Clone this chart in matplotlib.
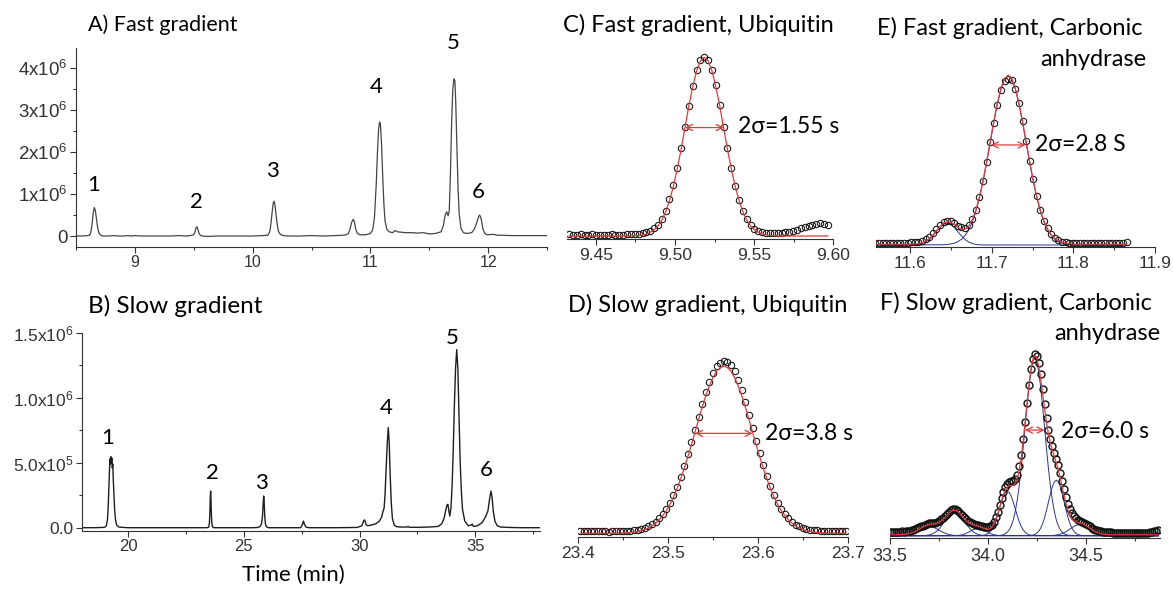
import matplotlib
matplotlib.use('Agg')
import matplotlib.pyplot as plt
from matplotlib.ticker import MultipleLocator

plt.rcParams['mathtext.fontset'] = 'custom'
plt.rcParams['mathtext.rm'] = 'Liberation Sans'
plt.rcParams['mathtext.it'] = 'Liberation Sans:italic'
plt.rcParams['mathtext.bf'] = 'Liberation Sans:bold'

# ---------------- data ----------------
# Panel A: fast gradient chromatogram (time min, intensity x1e6)
a_points = [
    (8.50, 0.0), (8.55, 0.0), (8.60, 0.01), (8.615, 0.02), (8.625, 0.08), (8.635, 0.25), (8.645, 0.52),
    (8.655, 0.68), (8.665, 0.60), (8.675, 0.38), (8.685, 0.18), (8.695, 0.07), (8.71, 0.02), (8.73, 0.0),
    (8.78, 0.0), (8.82, 0.01), (8.86, 0.0), (8.90, 0.0), (8.94, 0.01), (8.97, 0.0), (9.00, 0.01), (9.05, 0.0),
    (9.10, 0.0), (9.20, 0.0), (9.30, 0.0), (9.38, 0.01), (9.43, 0.0), (9.47, 0.01), (9.50, 0.03), (9.51, 0.10),
    (9.52, 0.20), (9.527, 0.22), (9.535, 0.16), (9.545, 0.07), (9.555, 0.02), (9.57, 0.0), (9.62, -0.01),
    (9.70, 0.0), (9.80, 0.0), (9.90, 0.0), (10.00, 0.0), (10.08, 0.01), (10.13, 0.02), (10.145, 0.10),
    (10.155, 0.28), (10.165, 0.55), (10.175, 0.79), (10.182, 0.83), (10.19, 0.74), (10.20, 0.48), (10.21, 0.25),
    (10.22, 0.11), (10.235, 0.04), (10.26, 0.01), (10.30, 0.0), (10.40, 0.0), (10.50, 0.01), (10.60, 0.0),
    (10.70, 0.01), (10.78, 0.02), (10.81, 0.05), (10.825, 0.14), (10.84, 0.32), (10.855, 0.40), (10.865, 0.33),
    (10.875, 0.17), (10.89, 0.06), (10.91, 0.03), (10.96, 0.03), (11.00, 0.06), (11.02, 0.15), (11.035, 0.45),
    (11.05, 1.25), (11.06, 2.0), (11.07, 2.55), (11.078, 2.72), (11.085, 2.68), (11.095, 2.2), (11.105, 1.4),
    (11.115, 0.75), (11.125, 0.35), (11.14, 0.16), (11.16, 0.10), (11.19, 0.08), (11.21, 0.13), (11.23, 0.10),
    (11.30, 0.08), (11.35, 0.08), (11.40, 0.07), (11.45, 0.08), (11.50, 0.05), (11.55, 0.06), (11.60, 0.10),
    (11.62, 0.25), (11.635, 0.50), (11.648, 0.58), (11.66, 0.48), (11.67, 0.60), (11.68, 1.5), (11.69, 2.7),
    (11.70, 3.5), (11.71, 3.75), (11.718, 3.7), (11.725, 3.2), (11.735, 2.1), (11.745, 1.1), (11.755, 0.5),
    (11.77, 0.18), (11.79, 0.08), (11.82, 0.06), (11.86, 0.08), (11.88, 0.15), (11.895, 0.25), (11.91, 0.38),
    (11.925, 0.50), (11.935, 0.47), (11.945, 0.35), (11.955, 0.18), (11.97, 0.07), (11.99, 0.03), (12.05, 0.04),
    (12.07, 0.02), (12.10, 0.02), (12.20, 0.01), (12.30, 0.01), (12.40, 0.01), (12.50, 0.01)]
a_labels = ['1', '2', '3', '4', '5', '6']
a_label_t = [8.65, 9.52, 10.17, 11.05, 11.70, 11.92]
a_label_y = [1.22, 0.81, 1.55, 3.56, 4.61, 1.05]
a_yticks = [0, 1, 2, 3, 4]
a_yticklabels = ['0', '1x10$^{6}$', '2x10$^{6}$', '3x10$^{6}$', '4x10$^{6}$']
a_xticks = [9, 10, 11, 12]

# Panel B: slow gradient chromatogram (time min, intensity x1e5)
b_points = [
    (18.0, 0.0), (18.5, 0.0), (18.9, 0.02), (19.0, 0.05), (19.05, 0.15), (19.1, 0.6), (19.13, 1.5), (19.16, 3.0),
    (19.19, 4.5), (19.21, 5.3), (19.23, 4.9), (19.25, 5.46), (19.27, 5.0), (19.29, 5.35), (19.31, 4.6),
    (19.33, 4.9), (19.35, 3.8), (19.38, 2.6), (19.41, 1.4), (19.45, 0.6), (19.5, 0.2), (19.6, 0.05), (19.8, 0.02),
    (20.0, 0.0), (21.0, 0.0), (22.0, 0.0), (23.0, 0.0), (23.4, 0.0), (23.48, 0.05), (23.51, 0.4), (23.53, 1.3),
    (23.545, 2.3), (23.56, 2.82), (23.575, 2.3), (23.59, 1.2), (23.61, 0.4), (23.64, 0.08), (23.7, 0.0),
    (24.5, 0.0), (25.4, 0.0), (25.6, 0.02), (25.7, 0.1), (25.76, 0.3), (25.8, 0.8), (25.83, 1.8), (25.855, 2.44),
    (25.875, 2.0), (25.9, 0.9), (25.93, 0.3), (25.97, 0.08), (26.05, 0.0), (27.0, 0.0), (27.45, 0.0),
    (27.52, 0.2), (27.57, 0.51), (27.62, 0.25), (27.68, 0.05), (27.8, 0.0), (29.0, 0.0), (29.9, 0.02),
    (30.1, 0.15), (30.18, 0.55), (30.22, 0.6), (30.28, 0.25), (30.35, 0.15), (30.5, 0.2), (30.7, 0.3),
    (30.85, 0.5), (30.95, 0.8), (31.02, 1.3), (31.06, 1.5), (31.1, 2.5), (31.15, 4.6), (31.2, 6.6), (31.24, 7.7),
    (31.28, 6.6), (31.32, 4.2), (31.37, 1.9), (31.42, 0.7), (31.5, 0.2), (31.6, 0.08), (31.8, 0.05),
    (32.05, 0.05), (32.1, 0.1), (32.15, 0.03), (32.5, 0.03), (33.0, 0.05), (33.4, 0.1), (33.55, 0.3),
    (33.65, 0.7), (33.72, 1.3), (33.78, 1.75), (33.82, 1.8), (33.86, 1.3), (33.9, 0.9), (33.95, 1.5),
    (34.0, 3.2), (34.05, 6.0), (34.1, 9.5), (34.15, 12.3), (34.2, 13.7), (34.25, 12.2), (34.3, 8.5),
    (34.35, 5.0), (34.4, 2.8), (34.45, 1.4), (34.55, 0.5), (34.7, 0.15), (34.82, 0.2), (34.87, 0.28),
    (34.92, 0.1), (35.1, 0.15), (35.3, 0.4), (35.45, 0.85), (35.55, 1.3), (35.62, 2.2), (35.68, 2.82),
    (35.73, 2.3), (35.78, 1.3), (35.85, 0.5), (35.95, 0.15), (36.1, 0.05), (36.5, 0.02), (37.0, 0.0), (37.8, 0.0)]
b_labels = ['1', '2', '3', '4', '5', '6']
b_label_t = [19.13, 23.64, 25.75, 31.15, 34.02, 35.47]
b_label_y = [6.88, 4.18, 3.46, 9.18, 14.57, 4.44]
b_yticks = [0, 5, 10, 15]
b_yticklabels = ['0.0', '5.0x10$^{5}$', '1.0x10$^{6}$', '1.5x10$^{6}$']
b_xticks = [20, 25, 30, 35]

# Panel C: fast gradient, ubiquitin (relative intensity %)
c_t = [9.4331, 9.4355, 9.4380, 9.4404, 9.4429, 9.4453, 9.4477, 9.4502, 9.4526, 9.4551,
       9.4575, 9.4599, 9.4624, 9.4648, 9.4673, 9.4697, 9.4721, 9.4746, 9.4770, 9.4795,
       9.4819, 9.4843, 9.4868, 9.4892, 9.4917, 9.4941, 9.4965, 9.4990, 9.5014, 9.5039,
       9.5063, 9.5087, 9.5112, 9.5136, 9.5161, 9.5185, 9.5209, 9.5234, 9.5258, 9.5283,
       9.5307, 9.5331, 9.5356, 9.5380, 9.5405, 9.5429, 9.5453, 9.5478, 9.5502, 9.5527,
       9.5551, 9.5575, 9.5600, 9.5624, 9.5649, 9.5673, 9.5697, 9.5722, 9.5746, 9.5771,
       9.5795, 9.5819, 9.5844, 9.5868, 9.5893, 9.5917, 9.5941, 9.5966]
c_data = [0.9, 0.7, 0.8, 1.0, 0.8, 0.7, 0.9, 0.8, 0.6, 0.8, 0.7, 0.9, 0.8, 0.7, 0.8, 0.9, 1.0,
          1.1, 1.3, 1.6, 2.0, 2.9, 4.2, 6.3, 9.6, 14.0, 20.5, 28.5, 38.0, 49.5, 61.0, 73.0, 84.0, 93.0,
          98.5, 100.3, 98.6, 93.0, 84.3, 73.2, 61.2, 49.3, 38.0, 28.0, 20.0, 14.0, 9.3, 6.1, 4.0, 2.8,
          2.1, 1.8, 1.6, 1.5,
          1.6, 1.8, 2.1, 2.5, 3.0, 3.6, 4.3, 5.0, 5.7, 6.3, 6.8, 7.0, 6.8, 6.1]
c_fit = [0, 0, 0, 0, 0, 0, 0, 0, 0, 0, 0, 0, 0, 0, 0, 0, 0,
         0.15, 0.3, 0.6, 1.1, 2.0, 3.4, 5.6, 8.9, 13.5, 19.8, 27.8, 37.5, 48.7, 60.7, 72.6, 83.5, 92.3,
         98.0, 100.0, 98.0, 92.3, 83.5, 72.6, 60.7, 48.7, 37.5, 27.8, 19.8, 13.5, 8.9, 5.6, 3.4, 2.0,
         1.1, 0.6, 0.3, 0.15,
         0, 0, 0, 0, 0, 0, 0, 0, 0, 0, 0, 0, 0, 0]
c_xticks = [9.45, 9.50, 9.55, 9.60]
c_xticklabels = ['9.45', '9.50', '9.55', '9.60']

# Panel D: slow gradient, ubiquitin
d_t = [23.402, 23.406, 23.410, 23.414, 23.418, 23.422, 23.426, 23.430, 23.434, 23.438,
       23.442, 23.446, 23.450, 23.454, 23.458, 23.462, 23.466, 23.470, 23.474, 23.478,
       23.482, 23.486, 23.490, 23.494, 23.498, 23.502, 23.506, 23.510, 23.514, 23.518,
       23.522, 23.526, 23.530, 23.534, 23.538, 23.542, 23.546, 23.550, 23.554, 23.558,
       23.562, 23.566, 23.570, 23.574, 23.578, 23.582, 23.586, 23.590, 23.594, 23.598,
       23.602, 23.606, 23.610, 23.614, 23.618, 23.622, 23.626, 23.630, 23.634, 23.638,
       23.642, 23.646, 23.650, 23.654, 23.658, 23.662, 23.666, 23.670, 23.674, 23.678,
       23.682, 23.686, 23.690, 23.694, 23.698]
d_data = [1.3, 1.1, 1.2, 1.4, 1.2, 1.1, 1.3, 1.2, 1.0, 1.2, 1.3, 1.2,
          1.3, 1.4, 1.5, 1.8, 2.1, 2.6, 3.2, 4.0, 5.2, 6.8, 8.8, 11.3, 14.3, 18.0, 22.3, 27.4, 33.2, 39.5,
          46.3, 53.5, 60.8, 68.3, 75.8, 82.8, 89.0, 94.0, 97.8, 100.0, 100.8, 100.3, 98.5, 95.0, 90.0, 83.8,
          76.8, 69.2, 61.6, 54.0, 46.8, 39.8, 33.4, 27.6, 22.4, 18.0, 14.3, 11.2, 8.7, 6.7, 5.1, 4.0, 3.2,
          2.6, 2.2, 1.9, 1.7, 1.6, 1.5,
          1.5, 1.4, 1.5, 1.3, 1.4, 1.3]
d_fit = [0, 0, 0, 0, 0, 0, 0, 0, 0, 0, 0, 0,
         0.2, 0.3, 0.5, 0.8, 1.1, 1.6, 2.3, 3.1, 4.3, 5.9, 7.8, 10.3, 13.2, 16.9, 21.2, 26.2, 31.9, 38.1,
         44.9, 52.0, 59.4, 66.8, 74.0, 80.7, 86.5, 91.3, 95.0, 97.2, 98.0, 97.2, 95.0, 91.3, 86.5, 80.7,
         74.0, 66.8, 59.4, 52.0, 44.9, 38.1, 31.9, 26.2, 21.2, 16.9, 13.2, 10.3, 7.8, 5.9, 4.3, 3.1, 2.3,
         1.6, 1.1, 0.8, 0.5, 0.3, 0.2,
         0, 0, 0, 0, 0, 0]
d_xticks = [23.4, 23.5, 23.6, 23.7]
d_xticklabels = ['23.4', '23.5', '23.6', '23.7']

# Panel E: fast gradient, carbonic anhydrase
e_t = [11.5572, 11.5616, 11.5660, 11.5704, 11.5748, 11.5792, 11.5836, 11.5880, 11.5924, 11.5968,
       11.6012, 11.6056, 11.6100, 11.6144, 11.6188, 11.6232, 11.6276, 11.6320, 11.6364, 11.6408,
       11.6452, 11.6496, 11.6540, 11.6584, 11.6628, 11.6672, 11.6716, 11.6760, 11.6804, 11.6848,
       11.6892, 11.6936, 11.6980, 11.7024, 11.7068, 11.7112, 11.7156, 11.7200, 11.7244, 11.7288,
       11.7332, 11.7376, 11.7420, 11.7464, 11.7508, 11.7552, 11.7596, 11.7640, 11.7684, 11.7728,
       11.7772, 11.7816, 11.7860, 11.7904, 11.7948, 11.7992, 11.8036, 11.8080, 11.8124, 11.8168,
       11.8212, 11.8256, 11.8300, 11.8344, 11.8388, 11.8432, 11.8476, 11.8520, 11.8564, 11.8608,
       11.8652]
e_data = [1.3, 1.1, 1.2, 1.4, 1.2, 1.3, 1.1, 1.3, 1.4,
          1.4, 1.6, 1.8, 2.0, 2.6, 3.5, 5.0, 7.0, 9.6, 12.0, 13.9,
          14.5, 14.2, 13.0, 11.4, 10.4, 10.3, 12.0, 15.5, 21.0, 28.6, 38.0,
          49.0, 60.8, 72.4, 83.0, 91.5, 96.8, 98.2, 97.5, 92.5, 84.2, 73.5, 61.8, 50.0,
          38.8, 29.0, 20.8, 14.4, 9.8, 6.5, 4.3, 2.9, 2.0, 1.6, 1.4, 1.3,
          1.2, 1.3, 1.1, 1.2, 1.4, 1.2, 1.1, 1.3, 1.2, 1.0, 1.2, 1.3, 1.1, 1.2, 1.6]
e_fit = [0.5, 0.5, 0.5, 0.5, 0.5, 0.5, 0.5, 0.5, 0.5,
         0.52, 0.55, 0.64, 0.86, 1.36, 2.26, 3.74, 5.84, 8.39, 10.91, 12.95,
         13.8, 13.4, 12.01, 10.39, 9.24, 9.34, 11.16, 14.86, 20.66, 28.44, 38.05,
         49.22, 61.2, 73.1, 84.0, 92.8, 98.5, 100.5, 98.5, 92.8, 84.0, 73.1, 61.2, 49.2,
         38.0, 28.3, 20.3, 14.0, 9.4, 6.1, 3.9, 2.5, 1.6, 1.1, 0.8, 0.65,
         0.5, 0.5, 0.5, 0.5, 0.5, 0.5, 0.5, 0.5, 0.5, 0.5, 0.5, 0.5, 0.5, 0.5, 0.5]
# fitted gaussian components: (first grid index, values)
e_comp_start = [9, 19]
e_comp_vals = [
    [0.02, 0.05, 0.14, 0.36, 0.86, 1.76, 3.24, 5.34, 7.89, 10.41, 12.3, 13.0, 12.3, 10.41, 7.89, 5.34,
     3.24, 1.76, 0.86, 0.36, 0.14, 0.05, 0.02],
    [0.15, 0.3, 0.6, 1.1, 2.0, 3.4, 5.6, 8.9, 13.5, 19.8, 27.8, 37.5, 48.7, 60.7, 72.6, 83.5, 92.3, 98.0,
     100.0, 98.0, 92.3, 83.5, 72.6, 60.7, 48.7, 37.5, 27.8, 19.8, 13.5, 8.9, 5.6, 3.4, 2.0, 1.1, 0.6, 0.3, 0.15]]
e_xticks = [11.6, 11.7, 11.8, 11.9]
e_xticklabels = ['11.6', '11.7', '11.8', '11.9']

# Panel F: slow gradient, carbonic anhydrase
f_t = [33.50, 33.51, 33.52, 33.53, 33.54, 33.55, 33.56, 33.57, 33.58, 33.59,
       33.60, 33.61, 33.62, 33.63, 33.64, 33.65, 33.66, 33.67, 33.68, 33.69,
       33.70, 33.71, 33.72, 33.73, 33.74, 33.75, 33.76, 33.77, 33.78, 33.79,
       33.80, 33.81, 33.82, 33.83, 33.84, 33.85, 33.86, 33.87, 33.88, 33.89,
       33.90, 33.91, 33.92, 33.93, 33.94, 33.95, 33.96, 33.97, 33.98, 33.99,
       34.00, 34.01, 34.02, 34.03, 34.04, 34.05, 34.06, 34.07, 34.08, 34.09,
       34.10, 34.11, 34.12, 34.13, 34.14, 34.15, 34.16, 34.17, 34.18, 34.19,
       34.20, 34.21, 34.22, 34.23, 34.24, 34.25, 34.26, 34.27, 34.28, 34.29,
       34.30, 34.31, 34.32, 34.33, 34.34, 34.35, 34.36, 34.37, 34.38, 34.39,
       34.40, 34.41, 34.42, 34.43, 34.44, 34.45, 34.46, 34.47, 34.48, 34.49,
       34.50, 34.51, 34.52, 34.53, 34.54, 34.55, 34.56, 34.57, 34.58, 34.59,
       34.60, 34.61, 34.62, 34.63, 34.64, 34.65, 34.66, 34.67, 34.68, 34.69,
       34.70, 34.71, 34.72, 34.73, 34.74, 34.75, 34.76, 34.77, 34.78, 34.79,
       34.80, 34.81, 34.82, 34.83, 34.84, 34.85, 34.86, 34.87]
f_data = [2.0, 1.8, 2.1, 1.9, 2.2, 2.0, 2.3, 2.1, 2.4, 2.3,
          2.6, 2.9, 3.2, 3.5, 4.0, 4.5, 5.0, 5.5, 6.0, 6.3,
          6.6, 6.8, 6.9, 7.1, 7.6, 8.2, 8.8, 9.7, 10.8, 11.9,
          12.9, 13.7, 14.2, 14.3, 14.0, 13.3, 12.3, 11.1, 9.9, 8.8,
          7.9, 7.2, 6.7, 6.3, 6.0, 5.8, 5.5, 5.1, 4.8, 4.5,
          4.5, 5.0, 6.0, 7.6, 10.0, 13.0, 16.6, 20.2, 23.6, 26.3,
          28.0, 28.9, 29.3, 29.6, 30.6, 33.0, 37.4, 43.8, 52.0, 61.6,
          71.7, 81.5, 89.8, 95.3, 97.8, 97.0, 93.2, 87.0, 79.2, 71.0,
          63.6, 57.2, 52.2, 48.2, 44.8, 41.5, 38.0, 34.0, 29.5, 25.0,
          20.9, 17.3, 14.4, 12.2, 10.6, 9.4, 8.6, 8.0, 7.5, 7.0,
          6.4, 5.8, 5.1, 4.4, 3.8, 3.3, 2.9, 2.6, 2.4, 2.2,
          2.0, 1.9, 1.8, 1.8, 1.7, 1.6, 1.7, 1.6, 1.5, 1.6,
          1.5, 1.5, 1.4, 1.5, 1.4, 1.3, 1.4, 1.3, 1.4, 1.3,
          1.5, 1.5, 1.6, 1.8, 2.0, 2.3, 2.6, 3.0]
f_fit = [0.50, 0.50, 0.51, 0.52, 0.53, 0.56, 0.60, 0.67, 0.78, 0.95,
         1.18, 1.49, 1.89, 2.38, 2.95, 3.56, 4.17, 4.76, 5.26, 5.66,
         5.94, 6.13, 6.28, 6.44, 6.70, 7.15, 7.82, 8.71, 9.78, 10.93,
         12.04, 12.96, 13.54, 13.71, 13.43, 12.74, 11.71, 10.48, 9.25, 8.13,
         7.21, 6.54, 6.09, 5.80, 5.56, 5.25, 4.87, 4.41, 3.92, 3.56,
         3.39, 3.72, 4.60, 6.23, 8.65, 11.74, 15.30, 18.95, 22.27, 24.82,
         26.40, 27.06, 27.09, 27.12, 28.07, 30.49, 35.00, 41.68, 50.54, 60.73,
         71.29, 81.31, 89.51, 95.05, 97.24, 95.92, 91.50, 84.75, 76.68, 68.56,
         61.06, 54.74, 49.92, 46.11, 42.77, 39.34, 35.50, 31.10, 26.24, 21.43,
         17.07, 13.46, 10.76, 8.97, 7.91, 7.36, 7.07, 6.83, 6.53, 6.10,
         5.51, 4.86, 4.14, 3.42, 2.75, 2.17, 1.69, 1.31, 1.03, 0.84,
         0.70, 0.62, 0.57, 0.50, 0.50, 0.50, 0.50, 0.50, 0.50, 0.50,
         0.50, 0.50, 0.50, 0.50, 0.50, 0.50, 0.50, 0.50, 0.50, 0.50,
         0.50, 0.50, 0.50, 0.50, 0.50, 0.50, 0.50, 0.50]
f_comp_start = [5, 17, 34, 46, 56, 71, 82]
f_comp_vals = [
    [0.06, 0.1, 0.17, 0.28, 0.45, 0.68, 0.99, 1.39, 1.88, 2.44, 3.04, 3.63, 4.18, 4.62, 4.9, 5.0, 4.9, 4.62,
     4.18, 3.63, 3.04, 2.44, 1.88, 1.39, 0.99, 0.68, 0.45, 0.28, 0.17, 0.1, 0.06],
    [0.08, 0.14, 0.26, 0.44, 0.73, 1.16, 1.76, 2.57, 3.61, 4.88, 6.33, 7.89, 9.44, 10.86, 12.0, 12.74, 13.0,
     12.74, 12.0, 10.86, 9.44, 7.89, 6.33, 4.88, 3.61, 2.57, 1.76, 1.16, 0.73, 0.44, 0.26, 0.14, 0.08],
    [0.09, 0.18, 0.32, 0.54, 0.86, 1.3, 1.83, 2.43, 3.02, 3.53, 3.88, 4.0, 3.88, 3.53, 3.02, 2.43, 1.83, 1.3,
     0.86, 0.54, 0.32, 0.18, 0.09],
    [0.05, 0.12, 0.26, 0.55, 1.06, 1.92, 3.24, 5.18, 7.8, 10.99, 14.57, 18.12, 21.19, 23.26, 24.0, 23.26, 21.19,
     18.12, 14.57, 10.99, 7.8, 5.18, 3.24, 1.92, 1.06, 0.55, 0.26, 0.12, 0.05],
    [0.14, 0.29, 0.58, 1.06, 1.9, 3.3, 5.4, 8.5, 13.0, 19.0, 26.7, 36.0, 46.8, 58.3, 69.7, 80.2, 88.6, 94.1,
     96.0, 94.1, 88.6, 80.2, 69.7, 58.3, 46.8, 36.0, 26.7, 19.0, 13.0, 8.5, 5.4, 3.3, 1.9, 1.06, 0.58, 0.29, 0.14],
    [0.06, 0.15, 0.33, 0.69, 1.32, 2.4, 4.05, 6.48, 9.75, 13.74, 18.2, 22.65, 26.49, 29.07, 30.0, 29.07, 26.49,
     22.65, 18.2, 13.74, 9.75, 6.48, 4.05, 2.4, 1.32, 0.69, 0.33, 0.15, 0.06],
    [0.07, 0.12, 0.2, 0.34, 0.53, 0.81, 1.19, 1.67, 2.25, 2.92, 3.64, 4.36, 5.01, 5.54, 5.88, 6.0, 5.88, 5.54,
     5.01, 4.36, 3.64, 2.92, 2.25, 1.67, 1.19, 0.81, 0.53, 0.34, 0.2, 0.12, 0.07]]
f_xticks = [33.5, 34.0, 34.5]
f_xticklabels = ['33.5', '34.0', '34.5']

# 2-sigma annotations: (text, text x, text y, arrow x0, arrow x1, arrow y)
sig_c = ('2\u03c3=1.55 s', 9.5398, 61.2, 9.5063, 9.5307, 60.7)
sig_d = ('2\u03c3=3.8 s', 23.6074, 58.6, 23.530, 23.594, 58.6)
sig_e = ('2\u03c3=2.8 S', 11.7526, 59.2, 11.6988, 11.7412, 59.2)
sig_f = ('2\u03c3=6.0 s', 34.374, 56.0, 34.19, 34.29, 57.0)

# ---------------- figure ----------------
W, H = 1173, 589
fig = plt.figure(figsize=(W / 100, H / 100), dpi=100)

TICKF = 'Liberation Sans'
TXTF = ['Lato', 'DejaVu Sans']
AXC = '#333333'
LABC = '#333333'
TXTC = '#000000'
RED = '#e03a3a'
BLUE = '#2a3590'


def add_ax(x0, y0, x1, y1):
    return fig.add_axes([x0 / W, 1 - y1 / H, (x1 - x0) / W, (y1 - y0) / H])


def chrom_axes(ax):
    for s in ['top', 'right']:
        ax.spines[s].set_visible(False)
    for s in ['left', 'bottom']:
        ax.spines[s].set_color(AXC)
        ax.spines[s].set_linewidth(0.8)
    ax.tick_params(which='major', direction='out', length=4, width=0.8, color=AXC, labelcolor=LABC, pad=2)
    ax.tick_params(which='minor', direction='out', length=2.5, width=0.8, color=AXC)
    ax.patch.set_alpha(0)


def peak_axes(ax, fs):
    for s in ['top', 'right', 'left']:
        ax.spines[s].set_visible(False)
    ax.spines['bottom'].set_color(AXC)
    ax.spines['bottom'].set_linewidth(0.8)
    ax.set_yticks([])
    ax.tick_params(axis='x', which='major', direction='out', length=4, width=0.8, color=AXC,
                   labelcolor=LABC, labelsize=fs, pad=3)
    ax.tick_params(axis='x', which='minor', direction='out', length=2.5, width=0.8, color=AXC)
    for lab in ax.get_xticklabels():
        lab.set_fontfamily(TICKF)
    ax.patch.set_alpha(0)


# ---- Panel A ----
axA = add_ax(76, 48.3, 547, 246.7)
axA.plot([p[0] for p in a_points], [p[1] for p in a_points], color='#444444', lw=0.9)
axA.set_xlim(8.5, 12.5)
axA.set_ylim(-0.255, 4.48)
chrom_axes(axA)
axA.set_xticks(a_xticks)
axA.xaxis.set_minor_locator(MultipleLocator(0.5))
axA.set_yticks(a_yticks)
axA.set_yticklabels(a_yticklabels)
axA.yaxis.set_minor_locator(MultipleLocator(0.5))
for lab in axA.get_xticklabels():
    lab.set_fontfamily(TICKF); lab.set_fontsize(11.5)
for lab in axA.get_yticklabels():
    lab.set_fontfamily(TICKF); lab.set_fontsize(13.5)
for s, t, y in zip(a_labels, a_label_t, a_label_y):
    axA.text(t, y, s, ha='center', va='center', fontsize=16, family=TXTF, color=TXTC)

# ---- Panel B ----
axB = add_ax(82, 332.7, 540, 530.7)
axB.plot([p[0] for p in b_points], [p[1] for p in b_points], color='#1e1e1e', lw=1.0)
axB.set_xlim(18, 37.8)
axB.set_ylim(-0.23, 15.0)
chrom_axes(axB)
axB.set_xticks(b_xticks)
axB.xaxis.set_minor_locator(MultipleLocator(2.5))
axB.set_yticks(b_yticks)
axB.set_yticklabels(b_yticklabels)
axB.yaxis.set_minor_locator(MultipleLocator(2.5))
for lab in axB.get_xticklabels():
    lab.set_fontfamily(TICKF); lab.set_fontsize(12)
for lab in axB.get_yticklabels():
    lab.set_fontfamily(TICKF); lab.set_fontsize(12.5)
for s, t, y in zip(b_labels, b_label_t, b_label_y):
    axB.text(t, y, s, ha='center', va='center', fontsize=16, family=TXTF, color=TXTC)


def draw_peak(ax, t, data, fit, sig, ms=4.6, mew=0.75):
    ax.plot(t, data, 'o', mfc='none', mec='#111111', mew=mew, ms=ms, zorder=3)
    ax.plot(t, fit, color=RED, lw=0.9, zorder=4)
    txt, tx, ty, x0, x1, ay = sig
    ax.annotate('', xy=(x1, ay), xytext=(x0, ay),
                arrowprops=dict(arrowstyle='<->', color=RED, lw=0.9, shrinkA=0, shrinkB=0,
                                mutation_scale=11), zorder=5)
    ax.text(tx, ty, txt, ha='left', va='center', fontsize=16.5, family=TXTF, color=TXTC)


def draw_comps(ax, t, starts, vals):
    for s0, v in zip(starts, vals):
        xs = [t[0]] + t[s0:s0 + len(v)] + [t[-1]]
        ys = [0.0] + v + [0.0]
        ax.plot(xs, ys, color=BLUE, lw=0.7, zorder=2.5)


# ---- Panel C ----
axC = add_ax(566.7, 40, 833.3, 238.5)
draw_peak(axC, c_t, c_data, c_fit, sig_c)
axC.set_xlim(9.4316, 9.60)
axC.set_ylim(-1.4, 109.7)
axC.set_xticks(c_xticks)
axC.set_xticklabels(c_xticklabels)
axC.xaxis.set_minor_locator(MultipleLocator(0.025))
peak_axes(axC, 12.5)

# ---- Panel D ----
axD = add_ax(578.3, 330, 847.7, 536.7)
draw_peak(axD, d_t, d_data, d_fit, sig_d)
axD.set_xlim(23.4, 23.7)
axD.set_ylim(-2.0, 119.2)
axD.set_xticks(d_xticks)
axD.set_xticklabels(d_xticklabels)
axD.xaxis.set_minor_locator(MultipleLocator(0.05))
peak_axes(axD, 12.5)

# ---- Panel E ----
axE = add_ax(876, 40, 1155, 246.7)
draw_comps(axE, e_t, e_comp_start, e_comp_vals)
draw_peak(axE, e_t, e_data, e_fit, sig_e)
axE.set_xlim(11.558, 11.9)
axE.set_ylim(-1.0, 121.3)
axE.set_xticks(e_xticks)
axE.set_xticklabels(e_xticklabels)
axE.xaxis.set_minor_locator(MultipleLocator(0.05))
peak_axes(axE, 12.5)

# ---- Panel F ----
axF = add_ax(890, 330, 1160, 538.3)
draw_comps(axF, f_t, f_comp_start, f_comp_vals)
draw_peak(axF, f_t, f_data, f_fit, sig_f, ms=5.0, mew=1.0)
axF.set_xlim(33.5, 34.88)
axF.set_ylim(-1.4, 111.0)
axF.set_xticks(f_xticks)
axF.set_xticklabels(f_xticklabels)
axF.xaxis.set_minor_locator(MultipleLocator(0.25))
peak_axes(axF, 13)

# ---- titles / labels ----
def ftext(x, y, s, size, ha='left'):
    fig.text(x / W, 1 - y / H, s, ha=ha, va='center', fontsize=size, family=TXTF, color=TXTC)


ftext(88, 25, 'A) Fast gradient', 15.5)
ftext(88, 306, 'B) Slow gradient', 17.5)
ftext(563, 25, 'C) Fast gradient, Ubiquitin', 17)
ftext(568, 305, 'D) Slow gradient, Ubiquitin', 17)
ftext(877, 28, 'E) Fast gradient, Carbonic', 17)
ftext(1146, 60, 'anhydrase', 17, ha='right')
ftext(880, 303, 'F) Slow gradient, Carbonic', 17)
ftext(1160, 333, 'anhydrase', 17, ha='right')
ftext(293, 575, 'Time (min)', 16, ha='center')

fig.savefig('out.png', dpi=100)
